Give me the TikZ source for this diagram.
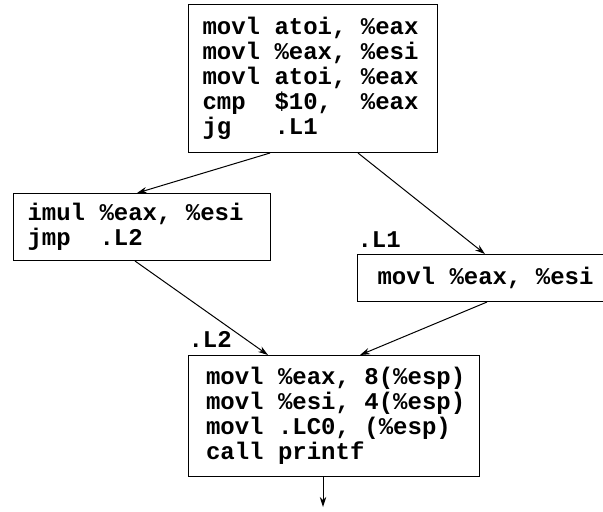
\documentclass[tikz,border=0pt]{standalone}
\usepackage{fontspec}
\setmonofont{Liberation Mono}[WordSpace={1,0,0}]
\usetikzlibrary{arrows.meta}

% fixed-pitch blank, one character cell wide
\newcommand*{\asp}{\hspace*{0.6em}}
\newcommand{\asmfont}{\ttfamily\bfseries\fontsize{12}{12.5}\selectfont}

\tikzset{
  asmbox/.style={draw, rectangle, anchor=north west, align=left, inner ysep=0pt,
    font=\asmfont},
  asmlabel/.style={anchor=base west, inner sep=0pt, font=\asmfont},
  flow/.style={line width=0.5pt, -{Stealth[length=5pt,width=3.2pt,inset=1.6pt]}}
}

\begin{document}
\begin{tikzpicture}[x=0.5pt,y=-0.5pt,line width=0.5pt]
                \clip (0,0) rectangle (603,511);
                % basic blocks
                \node[asmbox, text width=110.5pt, inner xsep=7pt, minimum height=74pt] (entry) at (188,4)
                    {movl\asp atoi,\asp\%eax\\movl\asp\%eax,\asp\%esi\\movl\asp atoi,\asp\%eax\\
                     cmp\asp\asp\$10,\asp\asp\%eax\\jg\asp\asp\asp.L1};
                \node[asmbox, text width=114.5pt, inner xsep=7pt, minimum height=33.5pt] (mul) at (13,193)
                    {imul\asp\%eax,\asp\%esi\\jmp\asp\asp.L2};
                \node[asmbox, text width=109pt, inner xsep=10pt, minimum height=23.5pt] (mov) at (357,254)
                    {movl\asp\%eax,\asp\%esi};
                \node[asmbox, text width=128pt, inner xsep=8.75pt, minimum height=60.5pt] (call) at (188,355)
                    {movl\asp\%eax,\asp 8(\%esp)\\movl\asp\%esi,\asp 4(\%esp)\\
                     movl\asp.LC0,\asp(\%esp)\\call\asp printf};

                % labels
                \node[asmlabel] (l1) at ([yshift=3.5pt]mov.north west) {.L1};
                \node[asmlabel] (l2) at ([yshift=4pt]call.north west) {.L2};

                \coordinate (out) at (323,507);

                % edges
                \draw[flow] ([xshift=41pt]entry.south west) -- ([xshift=62pt]mul.north west);
                \draw[flow] ([xshift=85pt]entry.south west) -- ([xshift=64pt]mov.north west);
                \draw[flow] ([xshift=61pt]mul.south west) -- ([xshift=40pt]call.north west);
                \draw[flow] ([xshift=65pt]mov.south west) -- ([xshift=86pt]call.north west);
                \draw[flow] ([xshift=67.5pt]call.south west) -- (out);
\end{tikzpicture}
\end{document}
